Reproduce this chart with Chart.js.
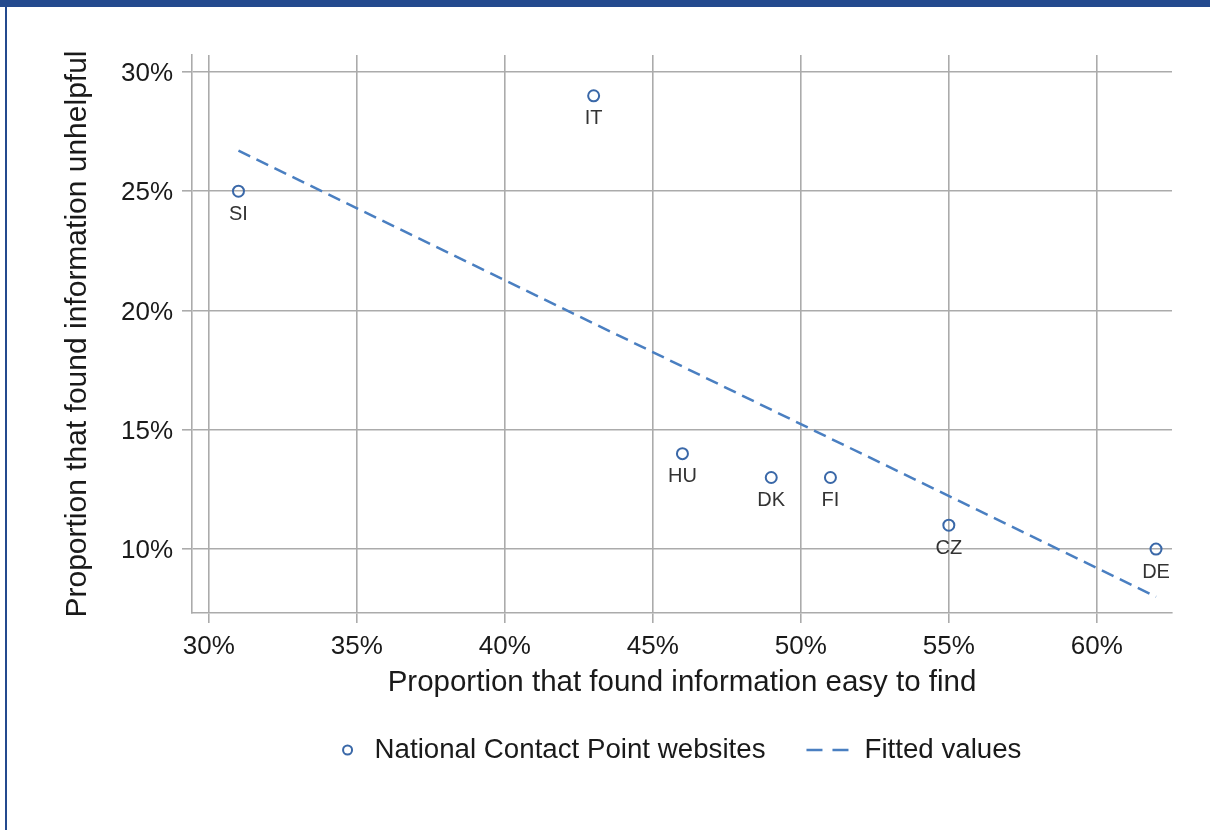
<!DOCTYPE html>
<html>
<head>
<meta charset="utf-8">
<title>Information findability vs. unhelpfulness</title>
<script src="https://cdn.jsdelivr.net/npm/chart.js@4/dist/chart.umd.min.js"></script>
<style>
  html, body { margin: 0; padding: 0; background: #ffffff; }
  #wrap { position: relative; width: 1210px; height: 830px; overflow: hidden; background: #ffffff; }
  #chart { position: absolute; left: 0; top: 0; }
  .frame-top { position: absolute; left: 0; top: 0; width: 1210px; height: 7px; background: #244a8e; }
  .frame-left { position: absolute; left: 5px; top: 0; width: 2px; height: 830px; background: #244a8e; }
</style>
</head>
<body>
<div id="wrap">
  <canvas id="chart" width="1210" height="830"></canvas>
  <div class="frame-top"></div>
  <div class="frame-left"></div>
</div>
<script>
// Country codes and survey shares (percent)
const countryCodes = ['SI', 'IT', 'HU', 'DK', 'FI', 'CZ', 'DE'];
const easyToFind   = [31, 43, 46, 49, 51, 55, 62];
const unhelpful    = [25, 29, 14, 13, 13, 11, 10];

// Linear fit, evaluated at the ends of the observed range
const fittedX = [31, 62];
const fittedY = [26.7, 8.0];

// Axis ticks
const xTickValues = [30, 35, 40, 45, 50, 55, 60];
const yTickValues = [10, 15, 20, 25, 30];

const seriesNames = ['National Contact Point websites', 'Fitted values'];
const xTitle = 'Proportion that found information easy to find';
const yTitle = 'Proportion that found information unhelpful';

const FONT = "'Liberation Sans', Arial, sans-serif";
const MARKER = '#3a68a8';
const FIT = '#4a7fc1';
const GRID = '#ababab';
const TEXT = '#1a1a1a';

// Country code under each marker
const pointLabels = {
  id: 'pointLabels',
  afterDatasetsDraw(chart) {
    const { ctx } = chart;
    const meta = chart.getDatasetMeta(0);
    ctx.save();
    ctx.font = '20px ' + FONT;
    ctx.fillStyle = '#333333';
    ctx.textAlign = 'center';
    ctx.textBaseline = 'middle';
    meta.data.forEach((pt, i) => {
      ctx.fillText(countryCodes[i], pt.x, pt.y + 23);
    });
    ctx.restore();
  }
};

// Legend row beneath the x-axis title
const bottomLegend = {
  id: 'bottomLegend',
  afterDraw(chart) {
    const { ctx, chartArea } = chart;
    const ds = chart.data.datasets;
    const y = chartArea.bottom + 137;
    ctx.save();
    ctx.font = '27.7px ' + FONT;
    const w1 = ctx.measureText(ds[0].label).width;
    const w2 = ctx.measureText(ds[1].label).width;
    const total = 5 + 27 + w1 + 41 + 42 + 16 + w2;
    let x = (chartArea.left + chartArea.right) / 2 - total / 2;

    // marker sample
    const cx = x + 5;
    ctx.beginPath();
    ctx.arc(cx, y, 4.5, 0, Math.PI * 2);
    ctx.lineWidth = 2;
    ctx.strokeStyle = ds[0].borderColor;
    ctx.stroke();

    ctx.fillStyle = TEXT;
    ctx.textAlign = 'left';
    ctx.textBaseline = 'middle';
    const t1 = cx + 27;
    ctx.fillText(ds[0].label, t1, y);

    // dashed line sample
    const d0 = t1 + w1 + 41;
    ctx.beginPath();
    ctx.moveTo(d0, y); ctx.lineTo(d0 + 16, y);
    ctx.moveTo(d0 + 26, y); ctx.lineTo(d0 + 42, y);
    ctx.lineWidth = 2.5;
    ctx.strokeStyle = ds[1].borderColor;
    ctx.stroke();

    ctx.fillText(ds[1].label, d0 + 42 + 16, y);
    ctx.restore();
  }
};

const pct = v => v + '%';

new Chart(document.getElementById('chart'), {
  type: 'scatter',
  data: {
    datasets: [
      {
        label: seriesNames[0],
        data: easyToFind.map((x, i) => ({ x: x, y: unhelpful[i] })),
        pointStyle: 'circle',
        pointRadius: 5.5,
        pointBorderWidth: 2,
        borderColor: MARKER,
        backgroundColor: 'rgba(0,0,0,0)',
        showLine: false,
        order: 1
      },
      {
        label: seriesNames[1],
        data: fittedX.map((x, i) => ({ x: x, y: fittedY[i] })),
        showLine: true,
        borderColor: FIT,
        borderWidth: 2.5,
        borderDash: [13, 7],
        pointRadius: 0,
        fill: false,
        order: 2
      }
    ]
  },
  options: {
    responsive: false,
    animation: false,
    devicePixelRatio: 1,
    layout: { padding: { top: 55, right: 38, bottom: 126, left: 58 } },
    plugins: {
      legend: { display: false },
      tooltip: { enabled: false }
    },
    scales: {
      x: {
        type: 'linear',
        min: 29.43,
        max: 62.54,
        afterBuildTicks: s => { s.ticks = xTickValues.map(v => ({ value: v })); },
        afterFit: s => { s.height = 91; },
        ticks: { callback: pct, color: TEXT, font: { family: FONT, size: 26 }, padding: 8, maxRotation: 0 },
        grid: { color: GRID, lineWidth: 1.6, tickLength: 10, drawTicks: true },
        border: { display: true, color: GRID, width: 1.6 },
        title: { display: true, text: xTitle, color: TEXT, font: { family: FONT, size: 29.5 }, padding: { top: 0, bottom: 3 } }
      },
      y: {
        type: 'linear',
        min: 7.32,
        max: 30.71,
        afterBuildTicks: s => { s.ticks = yTickValues.map(v => ({ value: v })); },
        afterFit: s => { s.width = 134; },
        ticks: { callback: pct, color: TEXT, font: { family: FONT, size: 26 }, padding: 9, labelOffset: 2 },
        grid: { color: GRID, lineWidth: 1.6, tickLength: 10, drawTicks: true },
        border: { display: true, color: GRID, width: 1.6 },
        title: { display: true, text: yTitle, color: TEXT, font: { family: FONT, size: 30 }, padding: { top: 2, bottom: 0 } }
      }
    }
  },
  plugins: [pointLabels, bottomLegend]
});
</script>
</body>
</html>
